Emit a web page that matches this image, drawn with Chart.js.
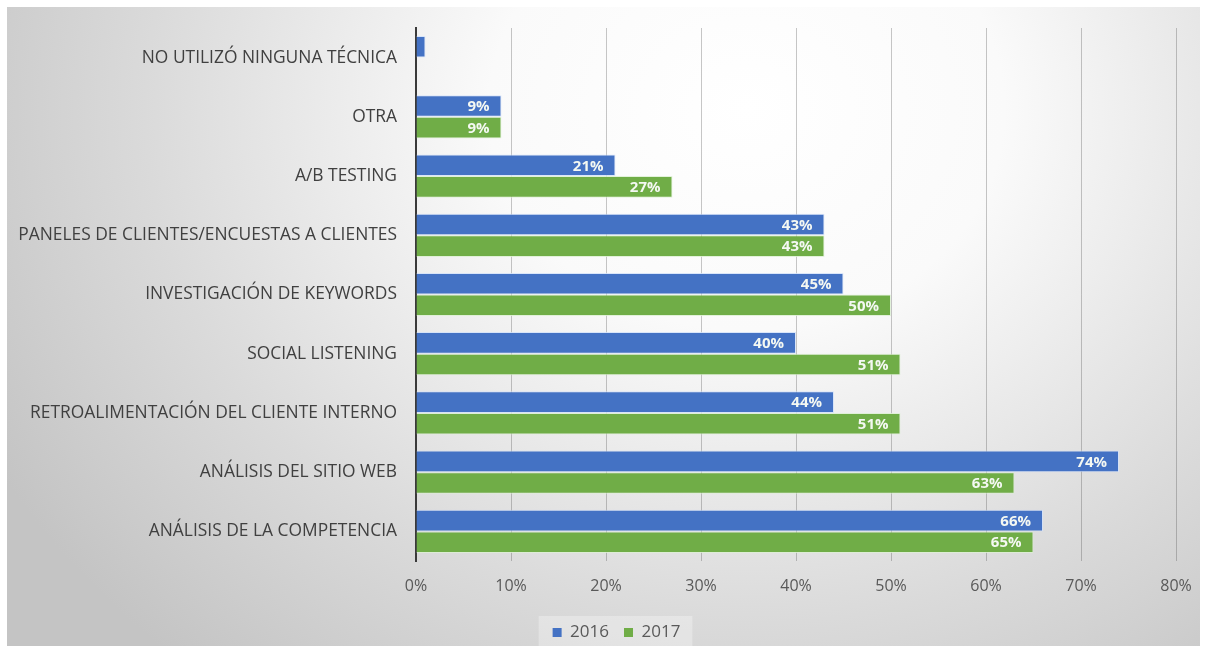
<!DOCTYPE html>
<html>
<head>
<meta charset="utf-8">
<script src="https://cdn.jsdelivr.net/npm/chart.js@4"></script>
<style>
  html, body { margin: 0; padding: 0; background: #fff; overflow: hidden; }
  #marco {
    position: absolute; left: 7px; top: 7px;
    width: 1193px; height: 639px;
    background: radial-gradient(ellipse 72% 115% at 62% 16%, #ffffff 0%, #fafafa 30%, #dadada 70%, #c4c4c4 100%);
  }
</style>
</head>
<body>
<div id="marco"><canvas id="grafico"></canvas></div>
<script>
// categorías de arriba hacia abajo
let categorias = [
    'NO UTILIZÓ NINGUNA TÉCNICA',
    'OTRA',
    'A/B TESTING',
    'PANELES DE CLIENTES/ENCUESTAS A CLIENTES',
    'INVESTIGACIÓN DE KEYWORDS',
    'SOCIAL LISTENING',
    'RETROALIMENTACIÓN DEL CLIENTE INTERNO',
    'ANÁLISIS DEL SITIO WEB',
    'ANÁLISIS DE LA COMPETENCIA'
];
let valores2016 = [1, 9, 21, 43, 45, 40, 44, 74, 66];
let valores2017 = [null, 9, 27, 43, 50, 51, 51, 63, 65];
let etiquetasX = ['0%', '10%', '20%', '30%', '40%', '50%', '60%', '70%', '80%'];

let fuente = "'Open Sans', sans-serif";

// etiquetas blancas dentro del final de cada barra
let etiquetasBarras = {
    id: 'etiquetasBarras',
    afterDatasetsDraw(chart) {
        let ctx = chart.ctx;
        ctx.save();
        ctx.font = "bold 15px " + fuente;
        ctx.fillStyle = '#f4f8f2';
        ctx.textAlign = 'right';
        ctx.textBaseline = 'middle';
        chart.data.datasets.forEach(function(ds, i) {
            chart.getDatasetMeta(i).data.forEach(function(barra, j) {
                let v = ds.data[j];
                if (v == null || v < 5) return;
                ctx.fillText(v + '%', barra.x - 12, barra.y + 1);
            });
        });
        ctx.restore();
    }
};

// leyenda desplazada (derecha y abajo), con fondo claro
let ajusteLeyenda = {
    id: 'ajusteLeyenda',
    afterLayout(chart) {
        let lg = chart.legend;
        lg.left += 25;
        lg.right += 25;
        lg.top += 5;
        lg.bottom += 5;
    },
    beforeDraw(chart) {
        let lg = chart.legend;
        if (!lg || !lg.legendHitBoxes.length) return;
        let primero = lg.legendHitBoxes[0];
        let ultimo = lg.legendHitBoxes[lg.legendHitBoxes.length - 1];
        let ctx = chart.ctx;
        ctx.save();
        ctx.fillStyle = 'rgba(255,255,255,0.3)';
        ctx.fillRect(primero.left - 14, primero.top - 8, ultimo.left + ultimo.width - primero.left + 26, ultimo.height + 16);
        ctx.restore();
    }
};

let grafico = new Chart(document.getElementById('grafico'), {
    type: 'bar',
    data: {
        labels: categorias,
        datasets: [
            {
                label: '2016',
                data: valores2016,
                backgroundColor: '#4472c4',
                borderColor: 'rgba(210,225,250,0.8)',
                borderWidth: 1
            },
            {
                label: '2017',
                data: valores2017,
                backgroundColor: '#70ad47',
                borderColor: 'rgba(220,240,210,0.8)',
                borderWidth: 1
            }
        ]
    },
    options: {
        indexAxis: 'y',
        responsive: true,
        maintainAspectRatio: false,
        animation: false,
        layout: { padding: { top: 21, right: 24, bottom: 0, left: 0 } },
        datasets: {
            bar: { categoryPercentage: 0.73, barPercentage: 1 }
        },
        scales: {
            x: {
                min: 0,
                max: 80,
                afterFit: function(escala) {
                    escala.paddingLeft = 0;
                    escala.paddingRight = 0;
                    escala.height = 43;
                },
                ticks: {
                    stepSize: 10,
                    padding: 16,
                    color: '#595959',
                    font: { family: fuente, size: 16 },
                    callback: function(v) { return etiquetasX[v / 10]; }
                },
                grid: {
                    color: 'rgba(70,70,70,0.3)',
                    lineWidth: 1,
                    drawTicks: false
                },
                border: { display: false }
            },
            y: {
                afterFit: function(escala) {
                    escala.width = 409;
                    escala.paddingTop = 0;
                    escala.paddingBottom = 0;
                },
                ticks: {
                    padding: 19,
                    color: '#404040',
                    font: { family: fuente, size: 17.4 }
                },
                grid: { display: false, drawTicks: false },
                border: { display: true, color: '#3a3a3a', width: 2 }
            }
        },
        plugins: {
            legend: {
                position: 'bottom',
                labels: {
                    boxWidth: 9,
                    boxHeight: 9,
                    padding: 15,
                    color: '#595959',
                    font: { family: fuente, size: 17 },
                    generateLabels: function(chart) {
                        return Chart.defaults.plugins.legend.labels.generateLabels(chart).map(function(l) {
                            l.lineWidth = 0;
                            return l;
                        });
                    }
                }
            },
            tooltip: { enabled: false }
        }
    },
    plugins: [etiquetasBarras, ajusteLeyenda]
});
</script>
</body>
</html>
